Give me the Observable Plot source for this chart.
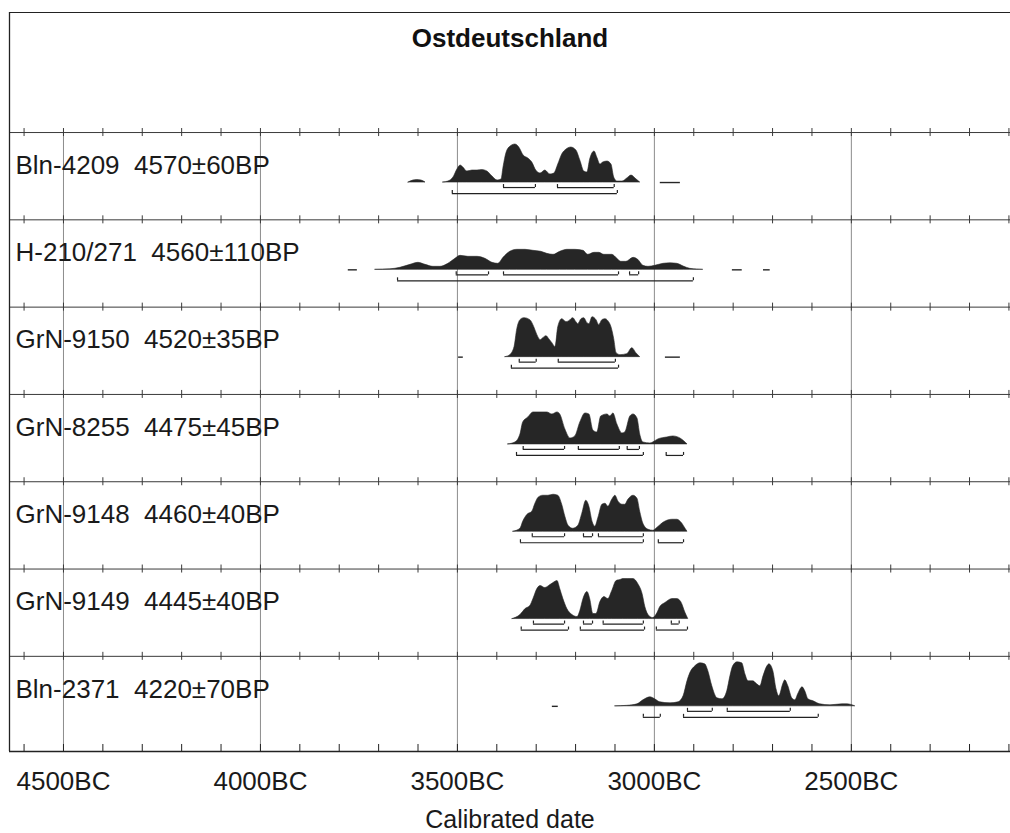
<!DOCTYPE html>
<html><head><meta charset="utf-8">
<script src="https://cdn.jsdelivr.net/npm/d3@7"></script>
<script src="https://cdn.jsdelivr.net/npm/@observablehq/plot@0.6"></script>
<style>body{margin:0;background:#fff} svg{display:block}</style>
</head><body><div id="chart"></div>
<script>
const title = "Ostdeutschland";
const xLabel = "Calibrated date";
const labs = ["Bln-4209", "H-210/271", "GrN-9150", "GrN-8255", "GrN-9148", "GrN-9149", "Bln-2371"];
const ages = ["4570±60BP", "4560±110BP", "4520±35BP", "4475±45BP", "4460±40BP", "4445±40BP", "4220±70BP"];
const axisTicks = [4500, 4000, 3500, 3000, 2500];
const gridYears = [4500, 4000, 3500, 3000, 2500];

// probability curves [year BC, relative probability], one list of segments per sample
const dBln4209 = [
  [[3624,0],[3612,2],[3602,2.5],[3591,2],[3581,0]],
  [[3536,0],[3523,1],[3510,5],[3500,13],[3492,17],[3485,15],[3475,11],[3462,12],[3449,12],[3437,12.5],[3424,11],[3411,6],[3398,2],[3388,3],[3383,15],[3375,30],[3365,36],[3353,38],[3343,35],[3332,27],[3320,24],[3310,20],[3300,12],[3289,9],[3277,12],[3264,8],[3254,9],[3244,18],[3234,28],[3223,33],[3211,35],[3198,32],[3188,22],[3178,11],[3170,10],[3163,23],[3152,31],[3145,25],[3137,18],[3130,20],[3119,21],[3109,18],[3102,5],[3094,1],[3081,1],[3069,4],[3058,7],[3048,4],[3036,0]]
];
const dH210 = [
  [[3708,0],[3670,0.5],[3645,2],[3619,5],[3599,7],[3581,5],[3561,3],[3543,3],[3523,6],[3505,11],[3492,14],[3472,13],[3449,13],[3429,11],[3411,7],[3396,6],[3383,12],[3366,18],[3348,20],[3327,20],[3307,19],[3287,18],[3272,16],[3256,15],[3239,18],[3221,20],[3201,20],[3180,19],[3168,15],[3152,17],[3140,17],[3127,15],[3107,15],[3094,11],[3084,8],[3071,8],[3053,12],[3041,10],[3028,4],[3015,3],[2998,4],[2977,6],[2959,6.5],[2942,6],[2924,3],[2909,1],[2891,0.3],[2876,0]]
];
const dGrN9150 = [
  [[3378,0],[3366,2],[3355,10],[3348,28],[3340,37],[3330,39],[3315,37],[3305,30],[3297,22],[3289,17],[3282,19],[3274,21],[3267,18],[3259,14],[3251,10],[3244,30],[3234,38],[3223,35],[3216,36],[3206,39],[3198,35],[3193,33],[3185,38],[3178,39],[3170,34],[3165,33],[3157,40],[3147,37],[3140,32],[3132,37],[3124,38],[3117,36],[3109,30],[3102,18],[3096,4],[3086,2],[3069,3],[3056,9],[3046,4],[3036,0]]
];
const dGrN8255 = [
  [[3371,0],[3353,2],[3340,10],[3333,22],[3320,27],[3307,32],[3289,32],[3272,32],[3259,30],[3246,32],[3239,30],[3226,15],[3213,6],[3201,8],[3188,22],[3175,31],[3165,30],[3155,14],[3145,12],[3135,28],[3119,30],[3112,28],[3104,31],[3094,20],[3081,11],[3074,12],[3061,28],[3053,30],[3043,26],[3036,10],[3028,2],[3010,1],[3003,2],[2990,5],[2967,7],[2952,8],[2934,6],[2921,2],[2916,0]]
];
const dGrN9148 = [
  [[3358,0],[3340,3],[3333,10],[3322,17],[3310,20],[3302,28],[3294,34],[3282,36],[3269,36],[3256,37],[3244,36],[3234,27],[3226,15],[3218,6],[3206,3],[3193,6],[3183,18],[3173,31],[3165,25],[3157,10],[3150,5],[3142,14],[3132,27],[3124,28],[3117,25],[3107,32],[3099,36],[3091,30],[3081,27],[3074,27],[3066,32],[3053,36],[3043,33],[3036,20],[3028,8],[3015,2],[3003,1],[2992,4],[2977,9],[2954,12],[2942,12],[2929,8],[2921,3],[2916,0]]
];
const dGrN9149 = [
  [[3360,0],[3340,4],[3327,10],[3315,13],[3307,20],[3297,30],[3289,33],[3277,31],[3264,34],[3256,36],[3246,38],[3239,30],[3231,20],[3221,10],[3208,4],[3195,2],[3188,8],[3180,20],[3170,27],[3163,20],[3155,5],[3147,5],[3137,17],[3127,22],[3117,20],[3107,28],[3096,38],[3086,39],[3079,40],[3066,40],[3053,40],[3041,35],[3030,25],[3023,12],[3013,3],[3003,1],[2992,6],[2985,12],[2972,16],[2954,20],[2942,20],[2932,17],[2921,6],[2914,0]]
];
const dBln2371 = [
  [[3099,0],[3069,0.5],[3043,2],[3028,6],[3010,9],[2998,7],[2985,4],[2959,3],[2939,4],[2926,10],[2916,25],[2909,33],[2896,40],[2883,43],[2871,42],[2863,35],[2853,20],[2840,8],[2827,7],[2815,15],[2807,30],[2800,40],[2789,44],[2777,43],[2769,32],[2761,25],[2749,25],[2739,22],[2731,20],[2723,30],[2713,40],[2708,42],[2698,35],[2690,17],[2683,10],[2673,22],[2668,26],[2660,20],[2650,8],[2642,6],[2635,12],[2624,19],[2617,15],[2609,7],[2596,5],[2579,2],[2553,1],[2523,2],[2510,2],[2490,0]]
];
const curves = [dBln4209, dH210, dGrN9150, dGrN8255, dGrN9148, dGrN9149, dBln2371];

// isolated low-probability segments [from, to]
const tails = [[[2985,2934]], [[3777,3754],[2802,2777],[2723,2706]], [[3497,3485],[2972,2934]], [], [], [], [[3259,3244]]];
// 68.2% ranges
const sigma1 = [
  [[3383,3302],[3246,3102]],
  [[3503,3421],[3383,3091],[3063,3040]],
  [[3343,3300],[3244,3099]],
  [[3333,3228],[3193,3089],[3069,3038]],
  [[3310,3228],[3180,3157],[3142,3028]],
  [[3307,3228],[3180,3157],[3130,3028],[2957,2937]],
  [[2916,2853],[2815,2655]]
];
// 95.4% ranges
const sigma2 = [
  [[3513,3094]],
  [[3652,2901]],
  [[3363,3091]],
  [[3350,3028],[2970,2926]],
  [[3340,3028],[2990,2926]],
  [[3338,3218],[3188,3025],[2995,2916]],
  [[3028,2985],[2926,2584]]
];

// ---- layout helpers (row units: row i spans [i, i+1]) ----
const PX = 87.3;              // pixels per row
const X0 = 4637, X1 = 2096;   // visible date range
const Y0 = -1.375, Y1 = 7.09; // frame top / axis
const nRows = labs.length;
const base = i => i + 50 / PX;

const area = [];
curves.forEach((segs, i) => segs.forEach((seg, s) => seg.forEach(([year, p]) =>
  area.push({row: i, seg: `${i}-${s}`, year, y1: base(i), y2: base(i) - p / PX}))));

const tailRows = [];
tails.forEach((t, i) => t.forEach(([a, b]) => tailRows.push({y: base(i), x1: a, x2: b})));

const brackets = [];
sigma1.forEach((r, i) => r.forEach(([a, b]) => brackets.push({y: base(i) + 5 / PX, x1: a, x2: b})));
sigma2.forEach((r, i) => r.forEach(([a, b]) => brackets.push({y: base(i) + 11 / PX, x1: a, x2: b})));
const bracketEnds = brackets.flatMap(b => [b.x1, b.x2].map(x => ({x, y1: b.y - 3 / PX, y2: b.y})));

const centuries = d3.range(4600, 2099, -100);
const rowTicks = [];
for (let r = 0; r < nRows; r++) centuries.forEach(x => rowTicks.push({x, y1: r - 4 / PX, y2: r + 4 / PX}));
const axisMinor = centuries.map(x => ({x, y1: Y1 - 7 / PX, y2: Y1}));

const rows = labs.map((l, i) => ({i, text: `${l}\u00a0\u00a0${ages[i]}`}));

const font = "'Liberation Sans', Arial, Helvetica, sans-serif";
const chart = Plot.plot({
  width: 1010, height: 833,
  marginLeft: 9, marginRight: 0, marginTop: 12, marginBottom: 82,
  style: {fontFamily: font, background: "#fff"},
  x: {domain: [X0, X1], axis: null},
  y: {domain: [Y0, Y1], range: [12, 751], axis: null},
  marks: [
    Plot.ruleX(gridYears, {x: d => d, y1: 0, y2: Y1, stroke: "#8c8c8c", strokeWidth: 1}),
    Plot.ruleY(d3.range(nRows), {y: d => d, stroke: "#3a3a3a", strokeWidth: 1}),
    Plot.ruleX(rowTicks, {x: "x", y1: "y1", y2: "y2", stroke: "#3a3a3a", strokeWidth: 1}),
    Plot.ruleX(axisMinor, {x: "x", y1: "y1", y2: "y2", stroke: "#222", strokeWidth: 1}),
    Plot.ruleY([Y0], {y: d => d, stroke: "#222", strokeWidth: 1.2}),
    Plot.ruleY([Y1], {y: d => d, stroke: "#222", strokeWidth: 1.3}),
    Plot.ruleX([X0], {x: d => d, y1: Y0, y2: Y1, stroke: "#222", strokeWidth: 1.3}),
    Plot.area(area, {x1: "year", y1: "y1", y2: "y2", z: "seg", curve: "monotone-x", fill: "#262626", stroke: "#262626", strokeWidth: 0.6}),
    Plot.ruleY(tailRows, {y: "y", x1: "x1", x2: "x2", stroke: "#262626", strokeWidth: 1.4}),
    Plot.ruleY(brackets, {y: "y", x1: "x1", x2: "x2", stroke: "#222", strokeWidth: 1.2}),
    Plot.ruleX(bracketEnds, {x: "x", y1: "y1", y2: "y2", stroke: "#222", strokeWidth: 1.2}),
    Plot.text(rows, {x: () => X0, y: d => d.i + 33 / PX, text: "text", textAnchor: "start", dx: 6, fontSize: 26, fill: "#1a1a1a", lineAnchor: "middle"}),
    Plot.text([title], {frameAnchor: "top", dy: 26, text: d => d, fontSize: 26, fontWeight: "bold", fill: "#111", lineAnchor: "middle"}),
    Plot.text(axisTicks, {x: d => d, frameAnchor: "bottom", dy: 30, text: d => `${d}BC`, fontSize: 26, fill: "#1a1a1a", lineAnchor: "middle"}),
    Plot.text([xLabel], {frameAnchor: "bottom", dy: 68, text: d => d, fontSize: 25, fill: "#1a1a1a", lineAnchor: "middle"})
  ]
});
document.getElementById("chart").appendChild(chart);
</script>
</body></html>
